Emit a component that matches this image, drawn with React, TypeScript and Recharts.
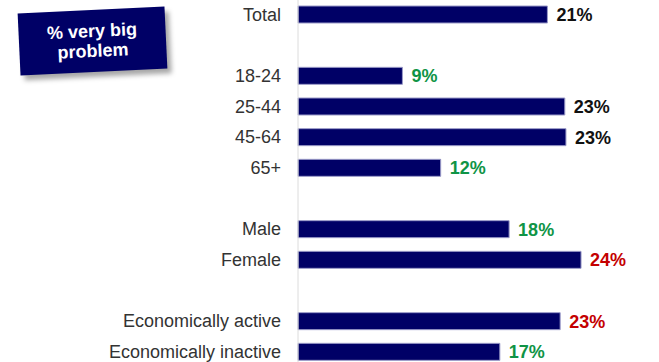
import React from "react";
import { BarChart, Bar, XAxis, YAxis, LabelList } from "recharts";

const categories = [
  "Total",
  "",
  "18-24",
  "25-44",
  "45-64",
  "65+",
  "",
  "Male",
  "Female",
  "",
  "Economically active",
  "Economically inactive",
];
const values: (number | null)[] = [21.5, null, 9.0, 23.0, 23.1, 12.3, null, 18.2, 24.4, null, 22.6, 17.4];
const valueLabels = ["21%", "", "9%", "23%", "23%", "12%", "", "18%", "24%", "", "23%", "17%"];
const labelColors = ["#111111", "", "#0f9446", "#111111", "#111111", "#0f9446", "", "#0f9446", "#c40000", "", "#c40000", "#0f9446"];

const data = categories.map((c, i) => ({
  key: "k" + i,
  name: c,
  value: values[i],
  label: valueLabels[i],
  color: labelColors[i],
}));

const FONT = "'Liberation Sans', Arial, sans-serif";

const renderLabel = (props: any) => {
  const { x, y, width, height, value } = props;
  const idx = Number(String(value).slice(1));
  const d = data[idx];
  if (!d || d.value == null) return null;
  return (
    <text
      x={x + width + 9}
      y={y + height / 2}
      dy="0.36em"
      fill={d.color}
      fontSize={18}
      fontWeight="bold"
      fontFamily={FONT}
    >
      {d.label}
    </text>
  );
};

export default function App() {
  return (
    <div style={{ position: "absolute", left: 0, top: -1, width: 659, height: 368 }}>
      <BarChart
        width={659}
        height={368}
        data={data}
        layout="vertical"
        margin={{ top: 0, right: 13, bottom: 0, left: 0 }}
        barCategoryGap={0}
      >
        <XAxis type="number" domain={[0, 30]} hide />
        <YAxis
          type="category"
          dataKey="key"
          width={298}
          tickFormatter={(k: string) => data[Number(k.slice(1))].name}
          tickLine={false}
          tickSize={0}
          tickMargin={17}
          axisLine={{ stroke: "#dcdcdc", strokeWidth: 1 }}
          tick={{ fontSize: 18, fill: "#333333", fontFamily: FONT }}
          interval={0}
        />
        <Bar
          dataKey="value"
          fill="#000066"
          stroke="#9a9ac8"
          strokeWidth={1}
          barSize={17}
          isAnimationActive={false}
        >
          <LabelList dataKey="key" content={renderLabel} />
        </Bar>
      </BarChart>
      <div
        style={{
          position: "absolute",
          left: 19,
          top: 11,
          width: 147,
          height: 62,
          background: "#000066",
          transform: "rotate(-2.7deg)",
          boxShadow: "4px 5px 5px rgba(0,0,0,0.35)",
          color: "#ffffff",
          fontFamily: FONT,
          fontWeight: "bold",
          fontSize: 18,
          lineHeight: "20px",
          textAlign: "center",
          display: "flex",
          alignItems: "center",
          justifyContent: "center",
        }}
      >
        <div>
          % very big
          <br />
          problem
        </div>
      </div>
    </div>
  );
}
